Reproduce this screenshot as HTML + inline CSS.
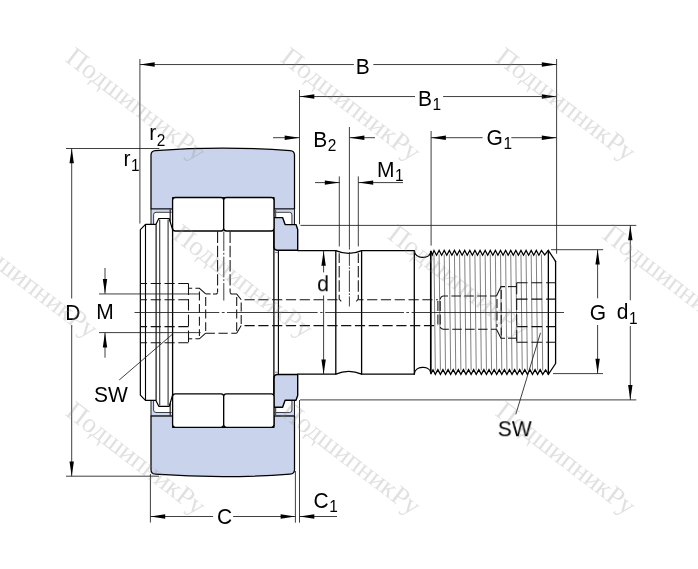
<!DOCTYPE html>
<html lang="ru">
<head>
<meta charset="utf-8">
<title>Cam follower drawing</title>
<style>
html,body{margin:0;padding:0;background:#fff;}
body{width:698px;height:569px;overflow:hidden;}
svg{display:block;will-change:transform;}
</style>
</head>
<body>
<svg width="698" height="569" viewBox="0 0 698 569">
<rect x="0" y="0" width="698" height="569" fill="#fff"/>
<g id="drawing">
<path d="M151.0 209.0 L151.0 155.0 Q151.0 151.0 155.4 150.6 Q222.75 145.7 290.1 150.6 Q294.5 151.0 294.5 155.0 L294.5 209.0 L274 209.0 L274 197.5 L172.6 197.5 L172.6 209.0 Z" fill="#c9d3ec" stroke="#000" stroke-width="1.25" stroke-linejoin="round"/>
<path d="M151.0 415.8 L151.0 469.8 Q151.0 473.8 155.4 474.2 Q222.75 479.1 290.1 474.2 Q294.5 473.8 294.5 469.8 L294.5 415.8 L274 415.8 L274 427.3 L172.6 427.3 L172.6 415.8 Z" fill="#c9d3ec" stroke="#000" stroke-width="1.25" stroke-linejoin="round"/>
<path d="M151.0 224.4 L151.0 209.0 L171.6 209.0 L171.6 212.3 L156.0 212.3 Q153.6 212.3 153.6 214.8 L153.6 224.4 Z" fill="#cfd8f1" stroke="none"/>
<path d="M171.6 212.3 L156.0 212.3 Q153.6 212.3 153.6 214.8 L153.6 224.4" fill="none" stroke="#2a2a2a" stroke-width="0.9"/>
<path d="M171.6 209.0 L151.0 209.0 L151.0 224.4" fill="none" stroke="#111" stroke-width="0.95" stroke-linejoin="round"/>
<path d="M294.5 224.4 L294.5 209.0 L274.4 209.0 L274.4 212.3 L289.5 212.3 Q291.9 212.3 291.9 214.8 L291.9 224.4 Z" fill="#cfd8f1" stroke="none"/>
<path d="M274.4 212.3 L289.5 212.3 Q291.9 212.3 291.9 214.8 L291.9 224.4" fill="none" stroke="#2a2a2a" stroke-width="0.9"/>
<path d="M274.4 209.0 L294.5 209.0 L294.5 224.4" fill="none" stroke="#111" stroke-width="0.95" stroke-linejoin="round"/>
<path d="M170.2 209.3L170.2 221.5" stroke="#222" stroke-width="1.2" fill="none"/>
<path d="M275.5 209.6L275.5 217.2" stroke="#555" stroke-width="1.5" fill="none"/>
<path d="M151.0 400.4 L151.0 415.8 L171.6 415.8 L171.6 412.5 L156.0 412.5 Q153.6 412.5 153.6 410.0 L153.6 400.4 Z" fill="#cfd8f1" stroke="none"/>
<path d="M171.6 412.5 L156.0 412.5 Q153.6 412.5 153.6 410.0 L153.6 400.4" fill="none" stroke="#2a2a2a" stroke-width="0.9"/>
<path d="M171.6 415.8 L151.0 415.8 L151.0 400.4" fill="none" stroke="#111" stroke-width="0.95" stroke-linejoin="round"/>
<path d="M294.5 400.4 L294.5 415.8 L274.4 415.8 L274.4 412.5 L289.5 412.5 Q291.9 412.5 291.9 410.0 L291.9 400.4 Z" fill="#cfd8f1" stroke="none"/>
<path d="M274.4 412.5 L289.5 412.5 Q291.9 412.5 291.9 410.0 L291.9 400.4" fill="none" stroke="#2a2a2a" stroke-width="0.9"/>
<path d="M274.4 415.8 L294.5 415.8 L294.5 400.4" fill="none" stroke="#111" stroke-width="0.95" stroke-linejoin="round"/>
<path d="M170.2 415.5L170.2 403.3" stroke="#222" stroke-width="1.2" fill="none"/>
<path d="M275.5 415.2L275.5 407.6" stroke="#555" stroke-width="1.5" fill="none"/>
<path d="M273.9 217.6 L282.6 217.6 L285.1 224.6 L296.0 224.6 L297.7 229.4 L297.7 250.3 L277.0 250.3 Q273.9 250.0 273.9 246.8 Z" fill="#c9d3ec" stroke="#000" stroke-width="1.4" stroke-linejoin="round"/>
<rect x="172.6" y="197.5" width="51.099999999999994" height="33.5" rx="2.7" ry="2.7" fill="#fff" stroke="#000" stroke-width="1.3"/>
<rect x="223.7" y="197.5" width="50.30000000000001" height="33.5" rx="2.7" ry="2.7" fill="#fff" stroke="#000" stroke-width="1.3"/>
<path d="M140.35 312.4 L140.35 229.6 L145.5 224.4 L155.9 224.4 L158.8 218.5 L169.2 218.5 L172.6 229.8" stroke="#000" stroke-width="1.2" fill="none" stroke-linejoin="round"/>
<path d="M273.9 407.2 L282.6 407.2 L285.1 400.2 L296.0 400.2 L297.7 395.4 L297.7 374.5 L277.0 374.5 Q273.9 374.8 273.9 378.0 Z" fill="#c9d3ec" stroke="#000" stroke-width="1.4" stroke-linejoin="round"/>
<rect x="172.6" y="393.8" width="51.099999999999994" height="33.5" rx="2.7" ry="2.7" fill="#fff" stroke="#000" stroke-width="1.3"/>
<rect x="223.7" y="393.8" width="50.30000000000001" height="33.5" rx="2.7" ry="2.7" fill="#fff" stroke="#000" stroke-width="1.3"/>
<path d="M140.35 312.4 L140.35 395.2 L145.5 400.4 L155.9 400.4 L158.8 406.3 L169.2 406.3 L172.6 395.0" stroke="#000" stroke-width="1.2" fill="none" stroke-linejoin="round"/>
<path d="M145.5 224.4L145.5 400.4" stroke="#000" stroke-width="1.12" fill="none" />
<path d="M156.1 224.4L156.1 400.4" stroke="#000" stroke-width="1.12" fill="none" />
<path d="M159.7 219.4L159.7 405.4" stroke="#3a3a3a" stroke-width="1.15" fill="none" />
<path d="M168.1 219.4L168.1 405.4" stroke="#3a3a3a" stroke-width="1.15" fill="none" />
<path d="M172.6 229L172.6 395.8" stroke="#000" stroke-width="1.3" fill="none" stroke-linejoin="round" stroke-linecap="round" />
<path d="M273.9 231L273.9 393.8" stroke="#000" stroke-width="1.3" fill="none" stroke-linejoin="round" stroke-linecap="round" />
<path d="M278.4 250.3L278.4 374.5" stroke="#000" stroke-width="1.12" fill="none" />
<path d="M274.2 252.6L278.2 252.6" stroke="#888" stroke-width="1" fill="none" />
<path d="M274.2 372.2L278.2 372.2" stroke="#888" stroke-width="1" fill="none" />
<path d="M297.7 250.6 L335.8 250.6 Q348.7 256.2 361.6 250.6 L414.3 250.6 C414.8 259.2 429.4 259.4 430.8 252.2" stroke="#000" stroke-width="1.3" fill="none" stroke-linejoin="round" stroke-linecap="round"/>
<path d="M297.7 374.2 L335.8 374.2 Q348.7 368.59999999999997 361.6 374.2 L414.3 374.2 C414.8 365.59999999999997 429.4 365.4 430.8 372.59999999999997" stroke="#000" stroke-width="1.3" fill="none" stroke-linejoin="round" stroke-linecap="round"/>
<path d="M335.8 250.6L335.8 374.2" stroke="#000" stroke-width="1.3" fill="none" stroke-linejoin="round" stroke-linecap="round" />
<path d="M361.6 250.6L361.6 374.2" stroke="#000" stroke-width="1.3" fill="none" stroke-linejoin="round" stroke-linecap="round" />
<path d="M414.3 250.6L414.3 374.2" stroke="#000" stroke-width="1.3" fill="none" stroke-linejoin="round" stroke-linecap="round" />
<path d="M430.8 251.1L430.8 373.7" stroke="#000" stroke-width="1.7" fill="none" />
<polyline points="430.7,250.6 432.3,255.0 434.0,250.4 436.56,255.2 439.12,250.4 441.67,255.2 444.23,250.4 446.79,255.2 449.35,250.4 451.9,255.2 454.46,250.4 457.02,255.2 459.57,250.4 462.13,255.2 464.69,250.4 467.25,255.2 469.81,250.4 472.36,255.2 474.92,250.4 477.48,255.2 480.04,250.4 482.59,255.2 485.15,250.4 487.71,255.2 490.26,250.4 492.82,255.2 495.38,250.4 497.94,255.2 500.5,250.4 503.05,255.2 505.61,250.4 508.17,255.2 510.73,250.4 513.28,255.2 515.84,250.4 518.4,255.2 520.96,250.4 523.51,255.2 526.07,250.4 528.63,255.2 531.18,250.4 533.74,255.2 536.3,250.4 538.86,255.2 541.41,250.4 544.7,254.9 548.3,250.4 555.6,261.3" stroke="#000" stroke-width="1.25" fill="none" stroke-linejoin="miter"/>
<polyline points="430.7,374.2 433.0,369.8 435.3,374.4 437.86,369.6 440.42,374.4 442.97,369.6 445.53,374.4 448.09,369.6 450.65,374.4 453.2,369.6 455.76,374.4 458.32,369.6 460.88,374.4 463.43,369.6 465.99,374.4 468.55,369.6 471.11,374.4 473.66,369.6 476.22,374.4 478.78,369.6 481.34,374.4 483.89,369.6 486.45,374.4 489.01,369.6 491.56,374.4 494.12,369.6 496.68,374.4 499.24,369.6 501.8,374.4 504.35,369.6 506.91,374.4 509.47,369.6 512.02,374.4 514.58,369.6 517.14,374.4 519.7,369.6 522.25,374.4 524.81,369.6 527.37,374.4 529.93,369.6 532.49,374.4 535.04,369.6 537.6,374.4 540.16,369.6 542.72,374.4 545.6,369.9 548.4,374.4 555.6,363.5" stroke="#000" stroke-width="1.25" fill="none" stroke-linejoin="miter"/>
<path d="M555.6 261.3L555.6 363.5" stroke="#000" stroke-width="1.3" fill="none" stroke-linejoin="round" stroke-linecap="round" />
<path d="M548.35 250.4L548.35 374.4" stroke="#000" stroke-width="1.3" fill="none" stroke-linejoin="round" stroke-linecap="round" />
<path d="M434.0 254.39999999999998L435.3 370.4" stroke="#737373" stroke-width="0.9" fill="none" />
<path d="M439.12 254.39999999999998L440.42 370.4" stroke="#737373" stroke-width="0.9" fill="none" />
<path d="M444.23 254.39999999999998L445.53 370.4" stroke="#737373" stroke-width="0.9" fill="none" />
<path d="M449.35 254.39999999999998L450.65 370.4" stroke="#737373" stroke-width="0.9" fill="none" />
<path d="M454.46 254.39999999999998L455.76 370.4" stroke="#737373" stroke-width="0.9" fill="none" />
<path d="M459.57 254.39999999999998L460.88 370.4" stroke="#737373" stroke-width="0.9" fill="none" />
<path d="M464.69 254.39999999999998L465.99 370.4" stroke="#737373" stroke-width="0.9" fill="none" />
<path d="M469.81 254.39999999999998L471.11 370.4" stroke="#737373" stroke-width="0.9" fill="none" />
<path d="M474.92 254.39999999999998L476.22 370.4" stroke="#737373" stroke-width="0.9" fill="none" />
<path d="M480.04 254.39999999999998L481.34 370.4" stroke="#737373" stroke-width="0.9" fill="none" />
<path d="M485.15 254.39999999999998L486.45 370.4" stroke="#737373" stroke-width="0.9" fill="none" />
<path d="M490.26 254.39999999999998L491.56 370.4" stroke="#737373" stroke-width="0.9" fill="none" />
<path d="M495.38 254.39999999999998L496.68 370.4" stroke="#737373" stroke-width="0.9" fill="none" />
<path d="M500.5 254.39999999999998L501.8 370.4" stroke="#737373" stroke-width="0.9" fill="none" />
<path d="M505.61 254.39999999999998L506.91 370.4" stroke="#737373" stroke-width="0.9" fill="none" />
<path d="M510.73 254.39999999999998L512.02 370.4" stroke="#737373" stroke-width="0.9" fill="none" />
<path d="M515.84 254.39999999999998L517.14 370.4" stroke="#737373" stroke-width="0.9" fill="none" />
<path d="M520.96 254.39999999999998L522.25 370.4" stroke="#737373" stroke-width="0.9" fill="none" />
<path d="M526.07 254.39999999999998L527.37 370.4" stroke="#737373" stroke-width="0.9" fill="none" />
<path d="M531.18 254.39999999999998L532.49 370.4" stroke="#737373" stroke-width="0.9" fill="none" />
<path d="M536.3 254.39999999999998L537.6 370.4" stroke="#737373" stroke-width="0.9" fill="none" />
<path d="M541.41 254.39999999999998L542.72 370.4" stroke="#737373" stroke-width="0.9" fill="none" />
<path d="M188.5 283.4L140.4 283.4" stroke="#111" stroke-width="1.05" fill="none" stroke-dasharray="10.2 3.6" stroke-dashoffset="0"/>
<path d="M188.5 299.7L140.4 299.7" stroke="#111" stroke-width="1.05" fill="none" stroke-dasharray="10.2 3.6" stroke-dashoffset="0"/>
<path d="M188.5 326.6L140.4 326.6" stroke="#111" stroke-width="1.05" fill="none" stroke-dasharray="10.2 3.6" stroke-dashoffset="0"/>
<path d="M188.5 342.7L140.4 342.7" stroke="#111" stroke-width="1.05" fill="none" stroke-dasharray="10.2 3.6" stroke-dashoffset="0"/>
<path d="M188.5 283.4L188.5 342.7" stroke="#111" stroke-width="1.05" fill="none" stroke-dasharray="11.5 4.2" stroke-dashoffset="0"/>
<path d="M188.5 288.3L192.2 288.2" stroke="#111" stroke-width="1.05" fill="none"/>
<path d="M195.4 288.3L199.4 288.3L205.7 293.9" stroke="#111" stroke-width="1.05" fill="none"/>
<path d="M188.6 338.8L192.2 338.8" stroke="#111" stroke-width="1.05" fill="none"/>
<path d="M195.4 338.8L199.4 338.8L205.7 333.2" stroke="#111" stroke-width="1.05" fill="none"/>
<path d="M199.4 291.5L199.4 336" stroke="#111" stroke-width="1.05" fill="none" stroke-dasharray="9 3.6" stroke-dashoffset="0"/>
<path d="M205.7 297L205.7 331" stroke="#111" stroke-width="1.05" fill="none" stroke-dasharray="9 3.6" stroke-dashoffset="0"/>
<path d="M205.7 293.9L210.6 293.9" stroke="#111" stroke-width="1.05" fill="none"/>
<path d="M213.0 293.9L216.6 293.9L217.7 292.6" stroke="#111" stroke-width="1.05" fill="none"/>
<path d="M217.6 231.6L217.6 292.6" stroke="#111" stroke-width="1.05" fill="none" stroke-dasharray="11.4 2.8" stroke-dashoffset="0"/>
<path d="M230.1 231.6L230.1 292.6" stroke="#111" stroke-width="1.05" fill="none" stroke-dasharray="11.4 2.8" stroke-dashoffset="0"/>
<path d="M230.1 292.6L231.2 293.9L236.7 293.9L241.2 299.7" stroke="#111" stroke-width="1.05" fill="none"/>
<path d="M244.5 299.7L339.2 299.7" stroke="#111" stroke-width="1.05" fill="none" stroke-dasharray="10.2 3.6" stroke-dashoffset="0"/>
<path d="M339.2 253.2L339.2 299.6" stroke="#111" stroke-width="1.05" fill="none" stroke-dasharray="11.5 2.9" stroke-dashoffset="1.7"/>
<path d="M358.3 253.2L358.3 299.6" stroke="#111" stroke-width="1.05" fill="none" stroke-dasharray="11.5 2.9" stroke-dashoffset="1.7"/>
<path d="M339.2 299.0L341.2 301.4" stroke="#111" stroke-width="1.05" fill="none"/>
<path d="M358.3 299.0L356.3 301.4" stroke="#111" stroke-width="1.05" fill="none"/>
<path d="M358.3 299.7L437.8 299.7" stroke="#111" stroke-width="1.05" fill="none" stroke-dasharray="10.2 3.6" stroke-dashoffset="5"/>
<path d="M205.7 333.2L236.7 333.2" stroke="#111" stroke-width="1.05" fill="none" stroke-dasharray="9.2 3.6" stroke-dashoffset="0"/>
<path d="M236.7 333.2L241.2 325.6" stroke="#111" stroke-width="1.05" fill="none"/>
<path d="M244.5 325.6L437.8 325.6" stroke="#111" stroke-width="1.05" fill="none" stroke-dasharray="10.2 3.6" stroke-dashoffset="0"/>
<path d="M236.7 297L236.7 331" stroke="#111" stroke-width="1.05" fill="none" stroke-dasharray="9 3.6" stroke-dashoffset="0"/>
<path d="M241.2 302.5L241.2 324" stroke="#111" stroke-width="1.05" fill="none" stroke-dasharray="9 3.6" stroke-dashoffset="0"/>
<path d="M437.9 301L437.9 325.5" stroke="#111" stroke-width="1.05" fill="none" stroke-dasharray="10 3.5" stroke-dashoffset="0"/>
<path d="M440.2 301L440.2 325.5" stroke="#111" stroke-width="1.05" fill="none" stroke-dasharray="10 3.5" stroke-dashoffset="0"/>
<path d="M440.3 299.3 Q440.8 296.0 443.6 296.0 L496.5 296.0" stroke="#111" stroke-width="1.05" fill="none" stroke-dasharray="9.5 3.4" stroke-dashoffset="0"/>
<path d="M440.3 327.0 Q440.8 329.2 443.6 329.2 L496.5 329.2" stroke="#111" stroke-width="1.05" fill="none" stroke-dasharray="9.5 3.4" stroke-dashoffset="0"/>
<path d="M496.5 296.0L501.0 286.6L505 286.6" stroke="#111" stroke-width="1.05" fill="none"/>
<path d="M508 286.6L516.7 286.6" stroke="#111" stroke-width="1.05" fill="none"/>
<path d="M496.5 329.2L501.0 338.2L505 338.2" stroke="#111" stroke-width="1.05" fill="none"/>
<path d="M508 338.2L516.7 338.2" stroke="#111" stroke-width="1.05" fill="none"/>
<path d="M497.0 299L497.0 327" stroke="#111" stroke-width="1.05" fill="none" stroke-dasharray="9 3.5" stroke-dashoffset="0"/>
<path d="M501.2 290L501.2 335.5" stroke="#111" stroke-width="1.05" fill="none" stroke-dasharray="9 3.5" stroke-dashoffset="0"/>
<path d="M516.7 282.8L555.6 282.8" stroke="#111" stroke-width="1.05" fill="none" stroke-dasharray="10.8 3.9" stroke-dashoffset="0"/>
<path d="M516.7 299.1L555.6 299.1" stroke="#111" stroke-width="1.05" fill="none" stroke-dasharray="10.8 3.9" stroke-dashoffset="0"/>
<path d="M516.7 326.6L555.6 326.6" stroke="#111" stroke-width="1.05" fill="none" stroke-dasharray="10.8 3.9" stroke-dashoffset="0"/>
<path d="M516.7 342.2L555.6 342.2" stroke="#111" stroke-width="1.05" fill="none" stroke-dasharray="10.8 3.9" stroke-dashoffset="0"/>
<path d="M516.7 282.8L516.7 342.2" stroke="#111" stroke-width="1.05" fill="none" stroke-dasharray="11.5 4.2" stroke-dashoffset="0"/>
<path d="M134.5 312.5L219.3 312.5" stroke="#1c1c1c" stroke-width="0.85" fill="none" />
<path d="M221.8 312.5L224.6 312.5" stroke="#1c1c1c" stroke-width="0.85" fill="none" />
<path d="M227 312.5L317.6 312.5" stroke="#1c1c1c" stroke-width="0.85" fill="none" />
<path d="M320.2 312.5L322.6 312.5" stroke="#1c1c1c" stroke-width="0.85" fill="none" />
<path d="M325.2 312.5L404 312.5" stroke="#1c1c1c" stroke-width="0.85" fill="none" />
<path d="M406.3 312.5L409 312.5" stroke="#1c1c1c" stroke-width="0.85" fill="none" />
<path d="M411.6 312.5L564 312.5" stroke="#1c1c1c" stroke-width="0.85" fill="none" />
<path d="M223.8 231.5L223.8 251" stroke="#1c1c1c" stroke-width="0.85" fill="none" />
<path d="M223.8 252.8L223.8 254.8" stroke="#1c1c1c" stroke-width="0.85" fill="none" />
<path d="M223.8 256.7L223.8 277.3" stroke="#1c1c1c" stroke-width="0.85" fill="none" />
<path d="M223.8 279.2L223.8 281.1" stroke="#1c1c1c" stroke-width="0.85" fill="none" />
<path d="M223.8 283L223.8 300.5" stroke="#1c1c1c" stroke-width="0.85" fill="none" />
<path d="M349.4 247.4L349.4 249.5" stroke="#1c1c1c" stroke-width="0.85" fill="none" />
<path d="M349.4 252L349.4 265.9" stroke="#1c1c1c" stroke-width="0.85" fill="none" />
<path d="M349.4 267.3L349.4 269" stroke="#1c1c1c" stroke-width="0.85" fill="none" />
<path d="M349.4 270.4L349.4 291.9" stroke="#1c1c1c" stroke-width="0.85" fill="none" />
<path d="M349.4 293.3L349.4 295" stroke="#1c1c1c" stroke-width="0.85" fill="none" />
<path d="M349.4 296.4L349.4 306.4" stroke="#1c1c1c" stroke-width="0.85" fill="none" />
</g>
<g id="dims">
<path d="M139.9 59L139.9 223.5" stroke="#1c1c1c" stroke-width="0.85" fill="none" />
<path d="M556.6 59L556.6 253.7" stroke="#1c1c1c" stroke-width="0.85" fill="none" />
<path d="M299.5 90L299.5 224.3" stroke="#1c1c1c" stroke-width="0.85" fill="none" />
<path d="M349.4 127L349.4 247.4" stroke="#1c1c1c" stroke-width="0.85" fill="none" />
<path d="M339.3 176.4L339.3 246.4" stroke="#1c1c1c" stroke-width="0.85" fill="none" />
<path d="M358.3 176.4L358.3 246.4" stroke="#1c1c1c" stroke-width="0.85" fill="none" />
<path d="M431.1 131L431.1 245.6" stroke="#1c1c1c" stroke-width="0.85" fill="none" />
<path d="M139.9 64.55L353.9 64.55" stroke="#1c1c1c" stroke-width="0.85" fill="none" />
<path d="M373.3 64.55L556.6 64.55" stroke="#1c1c1c" stroke-width="0.85" fill="none" />
<polygon points="139.9,64.55 154.70000000000002,62.349999999999994 154.70000000000002,66.75" fill="#000"/>
<polygon points="556.6,64.55 541.8000000000001,62.349999999999994 541.8000000000001,66.75" fill="#000"/>
<path d="M299.5 96.55L415 96.55" stroke="#1c1c1c" stroke-width="0.85" fill="none" />
<path d="M443.1 96.55L556.6 96.55" stroke="#1c1c1c" stroke-width="0.85" fill="none" />
<polygon points="299.5,96.55 314.3,94.35 314.3,98.75" fill="#000"/>
<polygon points="556.6,96.55 541.8000000000001,94.35 541.8000000000001,98.75" fill="#000"/>
<path d="M431.1 137.7L482.6 137.7" stroke="#1c1c1c" stroke-width="0.85" fill="none" />
<path d="M511.3 137.7L556.6 137.7" stroke="#1c1c1c" stroke-width="0.85" fill="none" />
<polygon points="431.1,137.7 445.90000000000003,135.5 445.90000000000003,139.89999999999998" fill="#000"/>
<polygon points="556.6,137.7 541.8000000000001,135.5 541.8000000000001,139.89999999999998" fill="#000"/>
<path d="M273 137.7L299.5 137.7" stroke="#1c1c1c" stroke-width="0.85" fill="none" />
<polygon points="299.5,137.7 284.7,135.5 284.7,139.89999999999998" fill="#000"/>
<path d="M349.6 137.7L375 137.7" stroke="#1c1c1c" stroke-width="0.85" fill="none" />
<polygon points="349.6,137.7 364.40000000000003,135.5 364.40000000000003,139.89999999999998" fill="#000"/>
<path d="M315 182.6L339.6 182.6" stroke="#1c1c1c" stroke-width="0.85" fill="none" />
<polygon points="339.6,182.6 324.8,180.4 324.8,184.79999999999998" fill="#000"/>
<path d="M358.4 182.6L403 182.6" stroke="#1c1c1c" stroke-width="0.85" fill="none" />
<polygon points="358.4,182.6 373.2,180.4 373.2,184.79999999999998" fill="#000"/>
<path d="M150.4 474L150.4 522.5" stroke="#1c1c1c" stroke-width="0.85" fill="none" />
<path d="M295.4 471L295.4 522.7" stroke="#1c1c1c" stroke-width="0.85" fill="none" />
<path d="M299.5 400L299.5 522.7" stroke="#1c1c1c" stroke-width="0.85" fill="none" />
<path d="M150.4 516.5L213.1 516.5" stroke="#1c1c1c" stroke-width="0.85" fill="none" />
<path d="M233.1 516.5L295.4 516.5" stroke="#1c1c1c" stroke-width="0.85" fill="none" />
<polygon points="150.4,516.5 165.20000000000002,514.3 165.20000000000002,518.7" fill="#000"/>
<polygon points="295.4,516.5 280.59999999999997,514.3 280.59999999999997,518.7" fill="#000"/>
<path d="M299.5 516.5L337 516.5" stroke="#1c1c1c" stroke-width="0.85" fill="none" />
<polygon points="299.5,516.5 314.3,514.3 314.3,518.7" fill="#000"/>
<path d="M66 148.5L159.3 148.5" stroke="#1c1c1c" stroke-width="0.85" fill="none" />
<path d="M66 476.2L159 476.2" stroke="#1c1c1c" stroke-width="0.85" fill="none" />
<path d="M71.7 148.5L71.7 298.5" stroke="#1c1c1c" stroke-width="0.85" fill="none" />
<path d="M71.7 325L71.7 476.2" stroke="#1c1c1c" stroke-width="0.85" fill="none" />
<polygon points="71.7,148.5 69.5,163.3 73.9,163.3" fill="#000"/>
<polygon points="71.7,476.2 69.5,461.4 73.9,461.4" fill="#000"/>
<path d="M99 293.95L199.6 293.95" stroke="#1c1c1c" stroke-width="0.85" fill="none" />
<path d="M99 332.6L200.6 332.6" stroke="#1c1c1c" stroke-width="0.85" fill="none" />
<path d="M105 268L105 293.7" stroke="#1c1c1c" stroke-width="0.85" fill="none" />
<polygon points="105,293.7 102.8,278.9 107.2,278.9" fill="#000"/>
<path d="M105 357.7L105 332.6" stroke="#1c1c1c" stroke-width="0.85" fill="none" />
<polygon points="105,332.6 102.8,347.40000000000003 107.2,347.40000000000003" fill="#000"/>
<path d="M323.6 250.9L323.6 272.4" stroke="#1c1c1c" stroke-width="0.85" fill="none" />
<polygon points="323.6,250.9 321.40000000000003,265.7 325.8,265.7" fill="#000"/>
<path d="M323.6 295.5L323.6 374.2" stroke="#1c1c1c" stroke-width="0.85" fill="none" />
<polygon points="323.6,374.2 321.40000000000003,359.4 325.8,359.4" fill="#000"/>
<path d="M551 249.7L603.2 249.7" stroke="#1c1c1c" stroke-width="0.85" fill="none" />
<path d="M553 373.6L603 373.6" stroke="#1c1c1c" stroke-width="0.85" fill="none" />
<path d="M597.6 249.7L597.6 298.3" stroke="#1c1c1c" stroke-width="0.85" fill="none" />
<path d="M597.6 325L597.6 373.6" stroke="#1c1c1c" stroke-width="0.85" fill="none" />
<polygon points="597.6,249.7 595.4,264.5 599.8000000000001,264.5" fill="#000"/>
<polygon points="597.6,373.6 595.4,358.8 599.8000000000001,358.8" fill="#000"/>
<path d="M300.5 225.4L636.3 225.4" stroke="#1c1c1c" stroke-width="0.85" fill="none" />
<path d="M300 399.9L636.3 399.9" stroke="#1c1c1c" stroke-width="0.85" fill="none" />
<path d="M630.3 225.4L630.3 300.3" stroke="#1c1c1c" stroke-width="0.85" fill="none" />
<path d="M630.3 326L630.3 399.9" stroke="#1c1c1c" stroke-width="0.85" fill="none" />
<polygon points="630.3,225.4 628.0999999999999,240.20000000000002 632.5,240.20000000000002" fill="#000"/>
<polygon points="630.3,399.9 628.0999999999999,385.09999999999997 632.5,385.09999999999997" fill="#000"/>
<path d="M119.2 380L172.7 334" stroke="#1c1c1c" stroke-width="0.85" fill="none" />
<path d="M540.5 332.8L515.8 414.3" stroke="#1c1c1c" stroke-width="0.85" fill="none" />
</g>
<g id="labels" font-family="&quot;Liberation Sans&quot;, sans-serif" fill="#000" opacity="0.999">
<text transform="translate(355.8 74.0) scale(0.955 1)" font-size="22">B</text>
<text transform="translate(418.0 105.5) scale(0.955 1)" font-size="22">B<tspan dx="0.6" dy="4.3" font-size="16.2">1</tspan></text>
<text transform="translate(486.5 145.0) scale(0.955 1)" font-size="22">G<tspan dx="0.6" dy="4.3" font-size="16.2">1</tspan></text>
<text transform="translate(313.3 146.7) scale(0.955 1)" font-size="22">B<tspan dx="0.6" dy="4.3" font-size="16.2">2</tspan></text>
<text transform="translate(377.0 176.7) scale(0.955 1)" font-size="22">M<tspan dx="0.6" dy="4.3" font-size="16.2">1</tspan></text>
<text transform="translate(123.5 166.2) scale(0.955 1)" font-size="22">r<tspan dx="0.6" dy="4.8" font-size="16.2">1</tspan></text>
<text transform="translate(149.2 140.0) scale(0.955 1)" font-size="22">r<tspan dx="0.6" dy="5.5" font-size="16.2">2</tspan></text>
<text transform="translate(65.3 319.5) scale(0.955 1)" font-size="22">D</text>
<text transform="translate(96.2 318.5) scale(0.955 1)" font-size="22">M</text>
<text transform="translate(94.0 401.8) scale(0.955 1)" font-size="22">SW</text>
<text transform="translate(217.0 523.7) scale(0.955 1)" font-size="22">C</text>
<text transform="translate(313.5 507.5) scale(0.955 1)" font-size="22">C<tspan dx="0.6" dy="4.3" font-size="16.2">1</tspan></text>
<text transform="translate(317.2 291.2) scale(0.955 1)" font-size="22">d</text>
<text transform="translate(589.8 319.5) scale(0.955 1)" font-size="22">G</text>
<text transform="translate(616.8 319.2) scale(0.955 1)" font-size="22">d<tspan dx="0.6" dy="4.3" font-size="16.2">1</tspan></text>
<text transform="translate(497.8 436.2) scale(0.955 1)" font-size="22">SW</text>
</g>
<g id="wm" font-family="&quot;Liberation Serif&quot;, serif" font-size="27.2" fill="#8c8c8c" opacity="0.265">
<text transform="translate(64.2 60.5) rotate(37.5)">ПодшипникРу</text>
<text transform="translate(279.2 60.5) rotate(37.5)">ПодшипникРу</text>
<text transform="translate(494.2 60.5) rotate(37.5)">ПодшипникРу</text>
<text transform="translate(-43.8 237.5) rotate(37.5)">ПодшипникРу</text>
<text transform="translate(171.2 237.5) rotate(37.5)">ПодшипникРу</text>
<text transform="translate(386.2 237.5) rotate(37.5)">ПодшипникРу</text>
<text transform="translate(601.2 237.5) rotate(37.5)">ПодшипникРу</text>
<text transform="translate(64.2 414.5) rotate(37.5)">ПодшипникРу</text>
<text transform="translate(279.2 414.5) rotate(37.5)">ПодшипникРу</text>
<text transform="translate(494.2 414.5) rotate(37.5)">ПодшипникРу</text>
</g>
</svg>
</body>
</html>
